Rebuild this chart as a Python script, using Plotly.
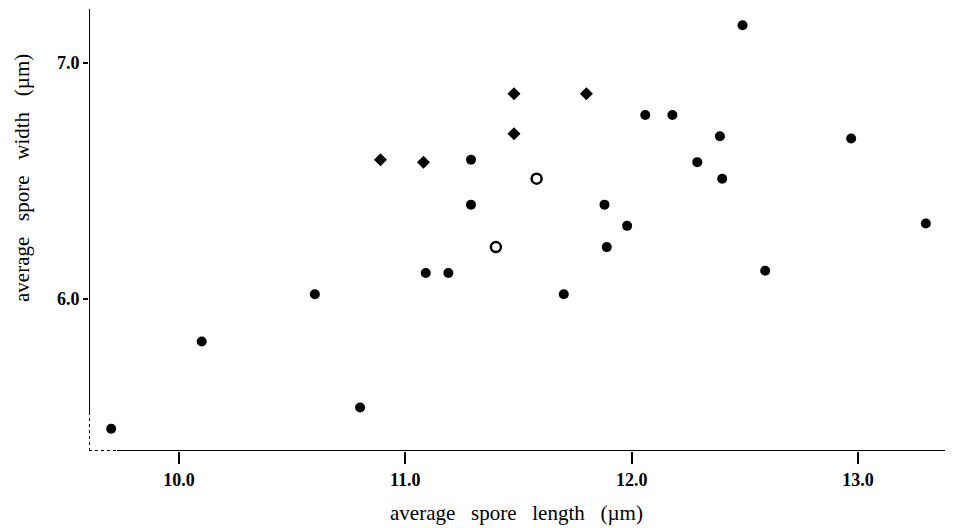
import plotly.graph_objects as go

# filled circles
fc_x = [9.70, 10.10, 10.60, 10.80, 11.09, 11.19, 11.29, 11.29, 11.88, 11.98, 11.89,
        11.70, 12.06, 12.18, 12.39, 12.29, 12.40, 12.49, 12.97, 13.30, 12.59]
fc_y = [5.45, 5.82, 6.02, 5.54, 6.11, 6.11, 6.59, 6.40, 6.40, 6.31, 6.22,
        6.02, 6.78, 6.78, 6.69, 6.58, 6.51, 7.16, 6.68, 6.32, 6.12]
# diamonds
dm_x = [10.89, 11.08, 11.48, 11.80, 11.48]
dm_y = [6.59, 6.58, 6.87, 6.87, 6.70]
# open circles
oc_x = [11.58, 11.40]
oc_y = [6.51, 6.22]

x_ticks = [10.0, 11.0, 12.0, 13.0]
x_tick_text = ["10.0", "11.0", "12.0", "13.0"]
y_ticks = [6.0, 7.0]
y_tick_text = ["6.0", "7.0"]

x_range = [9.602, 13.42]
y_range = [5.356, 7.229]
x_solid_start = 9.726
y_solid_start = 5.513

FONT = "Liberation Serif"

fig = go.Figure()
fig.add_trace(go.Scatter(x=fc_x, y=fc_y, mode="markers",
                         marker=dict(symbol="circle", size=10, color="black"),
                         showlegend=False))
fig.add_trace(go.Scatter(x=dm_x, y=dm_y, mode="markers",
                         marker=dict(symbol="diamond", size=10, color="black"),
                         showlegend=False))
fig.add_trace(go.Scatter(x=oc_x, y=oc_y, mode="markers",
                         marker=dict(symbol="circle-open", size=10, color="black",
                                     line=dict(width=2.5, color="black")),
                         showlegend=False))

# axis lines: solid part + dotted corner
fig.add_shape(type="line", x0=x_solid_start, x1=x_range[1], y0=y_range[0], y1=y_range[0],
              line=dict(color="black", width=2))
fig.add_shape(type="line", x0=x_range[0], x1=x_solid_start, y0=y_range[0], y1=y_range[0],
              line=dict(color="black", width=2, dash="dot"))
fig.add_shape(type="line", x0=x_range[0], x1=x_range[0], y0=y_solid_start, y1=y_range[1],
              line=dict(color="black", width=2))
fig.add_shape(type="line", x0=x_range[0], x1=x_range[0], y0=y_range[0], y1=y_solid_start,
              line=dict(color="black", width=2, dash="dot"))

sp = "\u00a0\u00a0\u00a0"
fig.add_annotation(text=f"average{sp}spore{sp}length{sp}(µm)", xref="paper", yref="paper",
                   x=(516 - 89) / 864, y=-(513 - 451) / 442, showarrow=False,
                   font=dict(family=FONT, size=21, color="black"), xanchor="center", yanchor="middle")
fig.add_annotation(text=f"average{sp}spore{sp}width{sp}(µm)", xref="paper", yref="paper",
                   x=-(89 - 22) / 864, y=(451 - 178) / 442, showarrow=False, textangle=-90,
                   font=dict(family=FONT, size=21, color="black"), xanchor="center", yanchor="middle")

# page body has an 8px margin, so the figure is sized/offset to compensate
fig.update_layout(
    width=945, height=520,
    margin=dict(l=81, r=0, t=1, b=77),
    paper_bgcolor="white", plot_bgcolor="white",
    xaxis=dict(range=x_range, showgrid=False, zeroline=False, showline=False,
               tickmode="array", tickvals=x_ticks, ticktext=x_tick_text,
               ticks="outside", ticklen=12, tickwidth=2, tickcolor="black",
               tickfont=dict(family=FONT, size=18, color="black", weight="bold")),
    yaxis=dict(range=y_range, showgrid=False, zeroline=False, showline=False,
               tickmode="array", tickvals=y_ticks, ticktext=y_tick_text,
               ticks="outside", ticklen=5, tickwidth=2, tickcolor="black",
               tickfont=dict(family=FONT, size=18, color="black", weight="bold")),
)

fig.write_html("out.html")
